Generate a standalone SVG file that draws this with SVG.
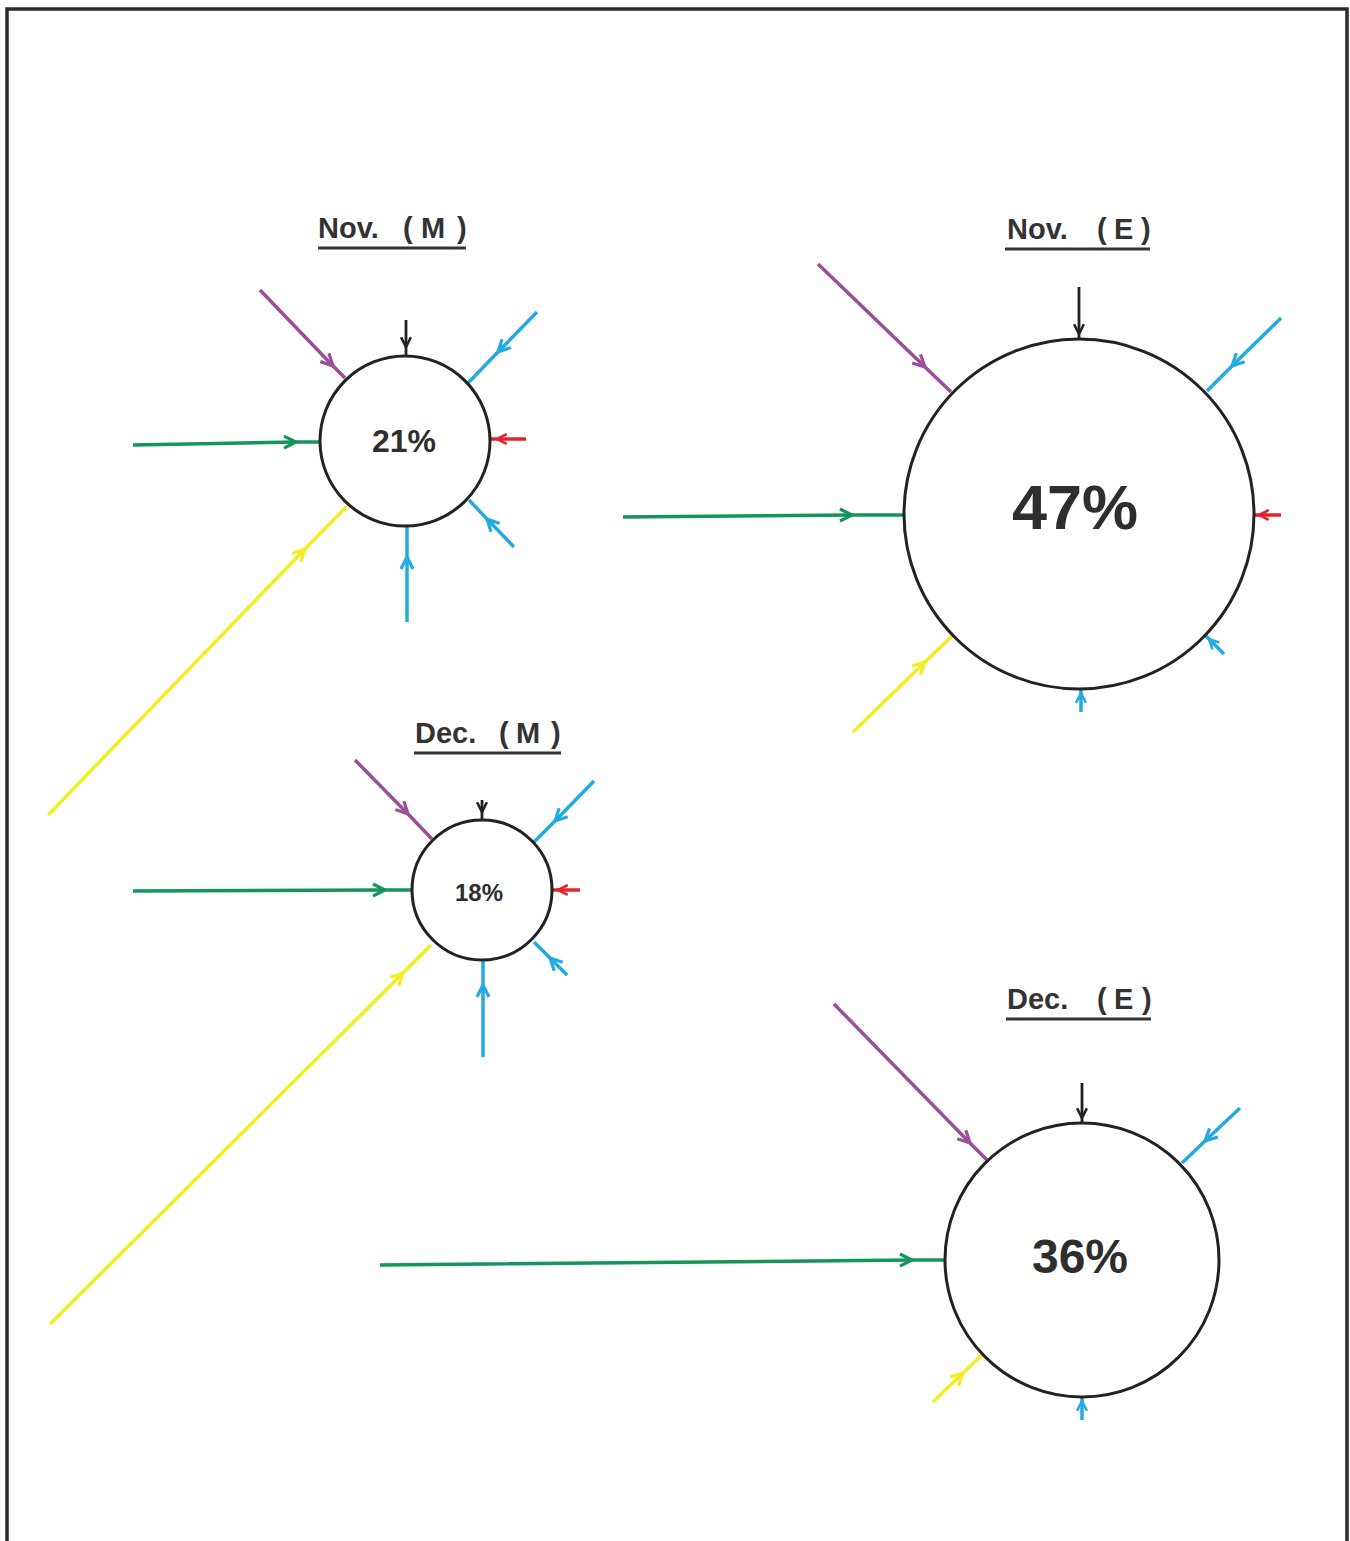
<svg xmlns="http://www.w3.org/2000/svg" width="1350" height="1541" viewBox="0 0 1350 1541">
  <style>
    .frame { fill: none; stroke: #2b2b2b; stroke-width: 3.5; }
    .node circle { fill: #fff; stroke: #222; stroke-width: 3; }
    .pct { font-family: "Liberation Sans", Arial, sans-serif; font-weight: bold; fill: #2e2e2e; text-anchor: middle; }
    .title { font-family: "Liberation Sans", Arial, sans-serif; font-weight: bold; font-size: 29px; fill: #333; }
    .uline { stroke: #333; stroke-width: 3; }
    .c { fill: none; stroke-width: 3.5; stroke-linecap: butt; }
    .purple { stroke: #9b4f96; marker-mid: url(#ah-purple); }
    .blue { stroke: #24a9e1; marker-mid: url(#ah-blue); }
    .blue-s { stroke: #24a9e1; marker-mid: url(#ah-blue-s); }
    .green { stroke: #14955a; marker-mid: url(#ah-green); }
    .yellow { stroke: #f2ee22; marker-mid: url(#ah-yellow); }
    .red { stroke: #e4222e; marker-mid: url(#ah-red); }
    .black { stroke: #222; stroke-width: 2.8; marker-mid: url(#ah-black); }
    marker path { fill: none; stroke-width: 3.2; stroke-linejoin: miter; }
  </style>
  <defs>
    <marker id="ah-purple" viewBox="-14 -8 16 16" markerWidth="16" markerHeight="16" refX="0" refY="0" orient="auto" markerUnits="userSpaceOnUse"><path d="M-12,-6 L0,0 L-12,6" stroke="#9b4f96"/></marker>
    <marker id="ah-blue" viewBox="-14 -8 16 16" markerWidth="16" markerHeight="16" refX="0" refY="0" orient="auto" markerUnits="userSpaceOnUse"><path d="M-12,-6 L0,0 L-12,6" stroke="#24a9e1"/></marker>
    <marker id="ah-blue-s" viewBox="-14 -8 16 16" markerWidth="13" markerHeight="13" refX="0" refY="0" orient="auto" markerUnits="userSpaceOnUse"><path d="M-12,-6 L0,0 L-12,6" stroke="#24a9e1"/></marker>
    <marker id="ah-green" viewBox="-14 -8 16 16" markerWidth="16" markerHeight="16" refX="0" refY="0" orient="auto" markerUnits="userSpaceOnUse"><path d="M-12,-6 L0,0 L-12,6" stroke="#14955a"/></marker>
    <marker id="ah-yellow" viewBox="-14 -8 16 16" markerWidth="16" markerHeight="16" refX="0" refY="0" orient="auto" markerUnits="userSpaceOnUse"><path d="M-12,-6 L0,0 L-12,6" stroke="#f2ee22"/></marker>
    <marker id="ah-red" viewBox="-14 -8 16 16" markerWidth="13" markerHeight="13" refX="0" refY="0" orient="auto" markerUnits="userSpaceOnUse"><path d="M-12,-6 L0,0 L-12,6" stroke="#e4222e"/></marker>
    <marker id="ah-black" viewBox="-14 -8 16 16" markerWidth="13" markerHeight="13" refX="0" refY="0" orient="auto" markerUnits="userSpaceOnUse"><path d="M-12,-6 L0,0 L-12,6" stroke="#222"/></marker>
  </defs>

  <rect width="1350" height="1541" fill="#fff"/>
  <!-- open frame: left, top and right sides -->
  <path class="frame" d="M7,1541 V9 H1347 V1541"/>

  <!-- connectors: each path runs start, arrow tip, end at the circle -->
  <g id="connectors">
    <!-- Nov. (M) -->
    <path class="c purple" d="M260,290 L333,366 L345,378"/>
    <path class="c black" d="M406,320 L406,347 L406,355"/>
    <path class="c blue" d="M537,312 L498,352 L468,383"/>
    <path class="c red" d="M526,439 L497,439 L491,439"/>
    <path class="c blue" d="M514,547 L487,519 L469,500"/>
    <path class="c blue" d="M407,622 L407,557 L407,527"/>
    <path class="c yellow" d="M48,815 L305,549 L347,506"/>
    <path class="c green" d="M133,445 L296,442 L320,442"/>

    <!-- Nov. (E) -->
    <path class="c purple" d="M818,264 L925,367 L951,392"/>
    <path class="c black" d="M1079,287 L1079,334 L1079,339"/>
    <path class="c blue" d="M1281,318 L1232,366 L1207,391"/>
    <path class="c red" d="M1281,515 L1259,515 L1254,515"/>
    <path class="c blue-s" d="M1224,654 L1209,639 L1206,636"/>
    <path class="c blue-s" d="M1081,712 L1081,693 L1081,689"/>
    <path class="c yellow" d="M853,732 L925,662 L952,636"/>
    <path class="c green" d="M623,517 L852,515 L905,515"/>

    <!-- Dec. (M) -->
    <path class="c purple" d="M355,760 L408,814 L432,839"/>
    <path class="c black" d="M482,800 L482,812 L482,820"/>
    <path class="c blue" d="M594,781 L555,821 L533,843"/>
    <path class="c red" d="M580,890 L558,890 L552,890"/>
    <path class="c blue" d="M567,975 L550,958 L534,942"/>
    <path class="c blue" d="M483,1057 L483,985 L483,961"/>
    <path class="c yellow" d="M50,1324 L403,973 L431,945"/>
    <path class="c green" d="M133,891 L385,890 L412,890"/>

    <!-- Dec. (E) -->
    <path class="c purple" d="M834,1004 L970,1143 L987,1160"/>
    <path class="c black" d="M1082,1083 L1082,1118 L1082,1123"/>
    <path class="c blue" d="M1240,1108 L1205,1141 L1182,1163"/>
    <path class="c green" d="M380,1265 L912,1260 L946,1260"/>
    <path class="c yellow" d="M933,1402 L963,1373 L983,1354"/>
    <path class="c blue-s" d="M1082,1420 L1082,1401 L1082,1397"/>
  </g>

  <g id="nov-m" class="node">
    <text class="title" y="238"><tspan x="318">Nov.</tspan><tspan x="403">(</tspan><tspan x="421">M</tspan><tspan x="457">)</tspan></text>
    <line class="uline" x1="318" y1="248" x2="466" y2="248"/>
    <circle cx="405" cy="441" r="85"/>
    <text class="pct" x="404" y="452" font-size="32">21%</text>
  </g>

  <g id="nov-e" class="node">
    <text class="title" y="239"><tspan x="1007">Nov.</tspan><tspan x="1097">(</tspan><tspan x="1114">E</tspan><tspan x="1141">)</tspan></text>
    <line class="uline" x1="1005" y1="249" x2="1150" y2="249"/>
    <circle cx="1079" cy="514" r="175"/>
    <text class="pct" x="1075" y="529" font-size="63">47%</text>
  </g>

  <g id="dec-m" class="node">
    <text class="title" y="743"><tspan x="415">Dec.</tspan><tspan x="499">(</tspan><tspan x="516">M</tspan><tspan x="551">)</tspan></text>
    <line class="uline" x1="414" y1="753" x2="561" y2="753"/>
    <circle cx="482" cy="890" r="70"/>
    <text class="pct" x="479" y="901" font-size="24">18%</text>
  </g>

  <g id="dec-e" class="node">
    <text class="title" y="1009"><tspan x="1007">Dec.</tspan><tspan x="1097">(</tspan><tspan x="1114">E</tspan><tspan x="1142">)</tspan></text>
    <line class="uline" x1="1006" y1="1019" x2="1151" y2="1019"/>
    <circle cx="1082" cy="1260" r="137"/>
    <text class="pct" x="1080" y="1273" font-size="48">36%</text>
  </g>
</svg>
